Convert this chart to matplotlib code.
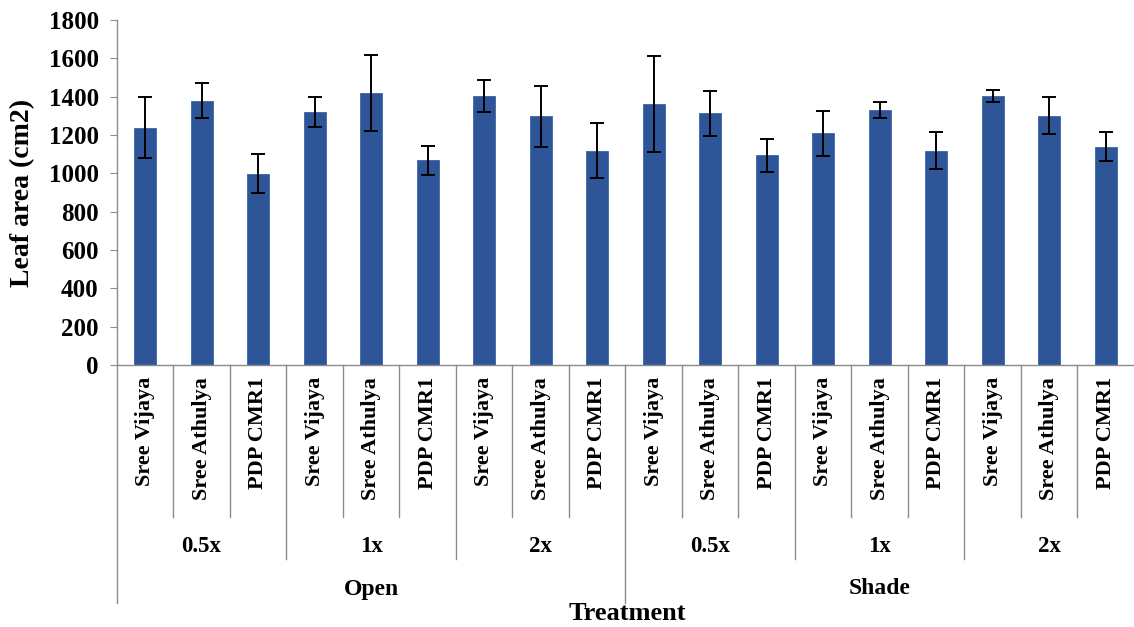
import matplotlib.pyplot as plt
import numpy as np
from matplotlib.transforms import blended_transform_factory

plt.rcParams["font.family"] = ["Liberation Serif", "DejaVu Serif"]
plt.rcParams["font.weight"] = "bold"

VARIETIES = ["Sree Vijaya", "Sree Athulya", "PDP CMR1"]
DOSES = ["0.5x", "1x", "2x"]
CONDITIONS = ["Open", "Shade"]

# mean leaf area per variety, dose and condition (Open first, then Shade)
leaf_area = [1238, 1379, 998, 1320, 1420, 1068, 1403, 1297, 1118,
             1360, 1313, 1094, 1208, 1330, 1118, 1403, 1301, 1140]
leaf_err = [158, 90, 103, 78, 197, 77, 85, 159, 144,
            250, 118, 86, 117, 42, 98, 32, 97, 77]

BAR_COLOR = "#2E5597"
LINE_COLOR = "#8C8C8C"

fig = plt.figure(figsize=(11.34, 6.27), dpi=100)
ax = fig.add_axes([0.103, 0.418, 0.897, 0.55])

n = len(leaf_area)
x = np.arange(n)
ax.bar(x, leaf_area, width=0.39, color=BAR_COLOR, edgecolor="#3A64A8", linewidth=0.6,
       yerr=leaf_err, error_kw=dict(ecolor="black", elinewidth=1.4, capsize=5, capthick=1.4))

ax.set_xlim(-0.5, n - 0.5)
ax.set_ylim(0, 1800)
ax.set_yticks(np.arange(0, 1801, 200))
ax.tick_params(axis="y", labelsize=18, length=5, pad=8, color=LINE_COLOR, direction="out")
ax.set_xticks([])
for side in ["top", "right"]:
    ax.spines[side].set_visible(False)
for side in ["left", "bottom"]:
    ax.spines[side].set_color(LINE_COLOR)
    ax.spines[side].set_linewidth(1)
ax.set_ylabel("Leaf area (cm2)", fontsize=20, fontweight="bold", labelpad=10)

# multi-level category axis below the plot
trans = blended_transform_factory(ax.transData, fig.transFigure)
def fy(px):
    return 1 - px / 627

axis_y = fy(365)
for i in range(n):
    xpos = i - 0.5
    if i % 9 == 0:
        bottom = fy(603)
    elif i % 3 == 0:
        bottom = fy(559)
    else:
        bottom = fy(517)
    ax.plot([xpos, xpos], [axis_y, bottom], transform=trans, color=LINE_COLOR,
            linewidth=1, clip_on=False)

labels = [v for c in CONDITIONS for d in DOSES for v in VARIETIES]
for i, lab in enumerate(labels):
    ax.text(i, fy(377), lab, transform=trans, rotation=90, ha="center", va="top",
            fontsize=16, fontweight="bold")

for j in range(len(CONDITIONS) * len(DOSES)):
    ax.text(3 * j + 1, fy(547), DOSES[j % 3], transform=trans, ha="center", va="center",
            fontsize=16.5, fontweight="bold")

for k, cond in enumerate(CONDITIONS):
    ax.text(9 * k + 4, fy(589), cond, transform=trans, ha="center", va="center",
            fontsize=17, fontweight="bold")

fig.text(0.553, fy(613), "Treatment", ha="center", va="center", fontsize=19, fontweight="bold")

fig.savefig("out.png", dpi=100)
